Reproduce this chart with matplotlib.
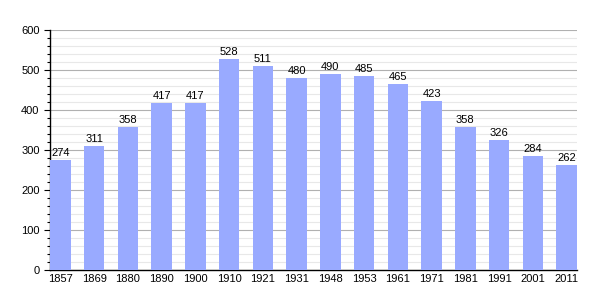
import matplotlib
matplotlib.use("Agg")
import matplotlib.pyplot as plt
from matplotlib.ticker import MultipleLocator

plt.rcParams['font.family'] = ['Liberation Sans', 'DejaVu Sans']

years = ['1857', '1869', '1880', '1890', '1900', '1910', '1921', '1931',
         '1948', '1953', '1961', '1971', '1981', '1991', '2001', '2011']
population = [274, 311, 358, 417, 417, 528, 511, 480,
              490, 485, 465, 423, 358, 326, 284, 262]

fig = plt.figure(figsize=(6.05, 3.0), dpi=100)
ax = fig.add_axes([50/605, 30/300, 527/605, 240/300])

x = list(range(len(years)))
ax.bar(x, population, width=0.61, color='#99aaff', zorder=3)
for xi, v in zip(x, population):
    ax.text(xi, v + 5, str(v), ha='center', va='bottom', fontsize=8, zorder=4)

ax.set_xlim(-0.31, len(years) - 0.69)
ax.set_ylim(0, 600)
ax.set_xticks(x)
ax.set_xticklabels(years, fontsize=8)
ax.yaxis.set_major_locator(MultipleLocator(100))
ax.yaxis.set_minor_locator(MultipleLocator(20))
ax.tick_params(axis='y', labelsize=8, length=4, width=0.8)
ax.tick_params(axis='y', which='minor', length=2, width=0.8)
ax.tick_params(axis='x', length=0, pad=3)
ax.grid(axis='y', which='major', color='#b0b0b0', linewidth=0.8, zorder=0)
ax.grid(axis='y', which='minor', color='#e8e8e8', linewidth=0.8, zorder=0)
for s in ['top', 'right']:
    ax.spines[s].set_visible(False)
ax.spines['left'].set_linewidth(1.0)
ax.spines['bottom'].set_linewidth(1.0)

fig.savefig('out.png', dpi=100)
